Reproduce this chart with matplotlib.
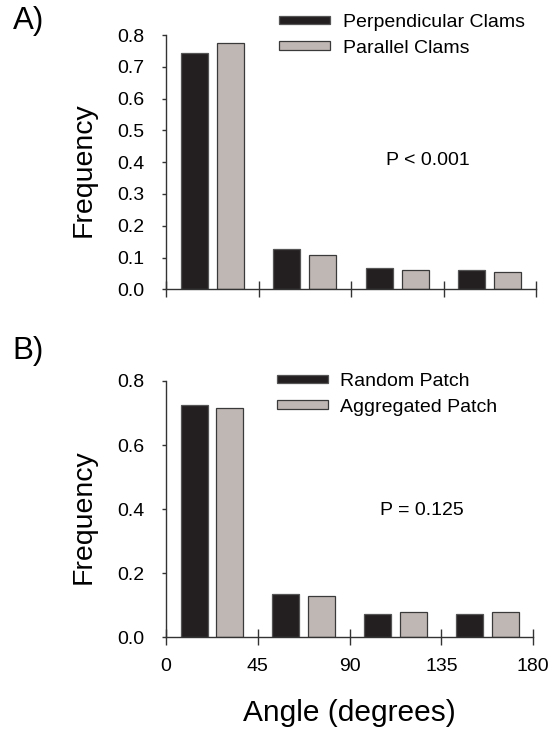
import numpy as np
import matplotlib
matplotlib.use("Agg")
import matplotlib.pyplot as plt

plt.rcParams['font.family'] = ['Liberation Sans', 'DejaVu Sans']

# bin centres (degrees)
bins = [22.5, 67.5, 112.5, 157.5]

# panel A
perp_clams = [0.744, 0.128, 0.067, 0.062]
para_clams = [0.774, 0.107, 0.062, 0.054]

# panel B
random_patch = [0.725, 0.134, 0.073, 0.074]
aggr_patch = [0.717, 0.130, 0.078, 0.079]

dark = '#231f20'
grey = '#bfb7b4'
bw = 13.2

W, H = 554, 731
fig = plt.figure(figsize=(W / 100, H / 100), dpi=100)
axA = fig.add_axes([166 / W, 1 - 289.3 / H, 370 / W, 254.3 / H])
axB = fig.add_axes([166 / W, 1 - 637.3 / H, 367.3 / W, 256.3 / H])

def px(x, y):
    return x / W, 1 - y / H

def draw_panel(ax, s1, s2, lab1, lab2, yticks, leg_xy, ptext, p_xy, ylab_xy):
    x = np.array(bins)
    ax.bar(x - 8.75, s1, width=bw, color=dark, edgecolor='#555555', linewidth=0.9, label=lab1)
    ax.bar(x + 8.75, s2, width=bw, color=grey, edgecolor='#3a3a3a', linewidth=0.9, label=lab2)
    ax.set_xlim(0, 180)
    ax.set_ylim(0, 0.8)
    ax.set_xticks([0, 45, 90, 135, 180])
    ax.set_yticks(yticks)
    ax.set_yticklabels(['%.1f' % v for v in yticks], fontsize=14)
    ax.spines['top'].set_visible(False)
    ax.spines['right'].set_visible(False)
    for s in ['left', 'bottom']:
        ax.spines[s].set_linewidth(1.0)
        ax.spines[s].set_color('#333333')
    ax.tick_params(axis='x', direction='inout', length=12, width=1.0, color='#333333')
    ax.tick_params(axis='y', direction='out', length=3, width=1.0, color='#333333', pad=12.5)
    ax.legend(loc='upper left', bbox_to_anchor=px(*leg_xy), bbox_transform=fig.transFigure,
              frameon=False, fontsize=14, borderpad=0, borderaxespad=0,
              handlelength=2.63, handleheight=0.3, handletextpad=0.65, labelspacing=0.45)
    fig.text(*px(*p_xy), ptext, fontsize=14, ha='center', va='center')
    fig.text(*px(*ylab_xy), 'Frequency', fontsize=20.5, rotation=90, ha='center', va='center')

draw_panel(axA, perp_clams, para_clams, 'Perpendicular Clams', 'Parallel Clams',
           np.arange(0, 0.81, 0.1), (279, 14), 'P < 0.001', (428, 160.7), (84, 170))
axA.set_xticklabels([])

draw_panel(axB, random_patch, aggr_patch, 'Random Patch', 'Aggregated Patch',
           np.arange(0, 0.81, 0.2), (276.7, 373), 'P = 0.125', (421.5, 510.7), (84, 516.7))
axB.set_xticklabels(['0', '45', '90', '135', '180'], fontsize=14)
axB.tick_params(axis='x', pad=9)
fig.text(*px(349, 713), 'Angle (degrees)', fontsize=21.5, ha='center', va='center')

fig.text(*px(12.5, 21), 'A)', fontsize=22.5, va='center', ha='left')
fig.text(*px(12.5, 351), 'B)', fontsize=22.5, va='center', ha='left')

fig.savefig('out.png', dpi=100)
